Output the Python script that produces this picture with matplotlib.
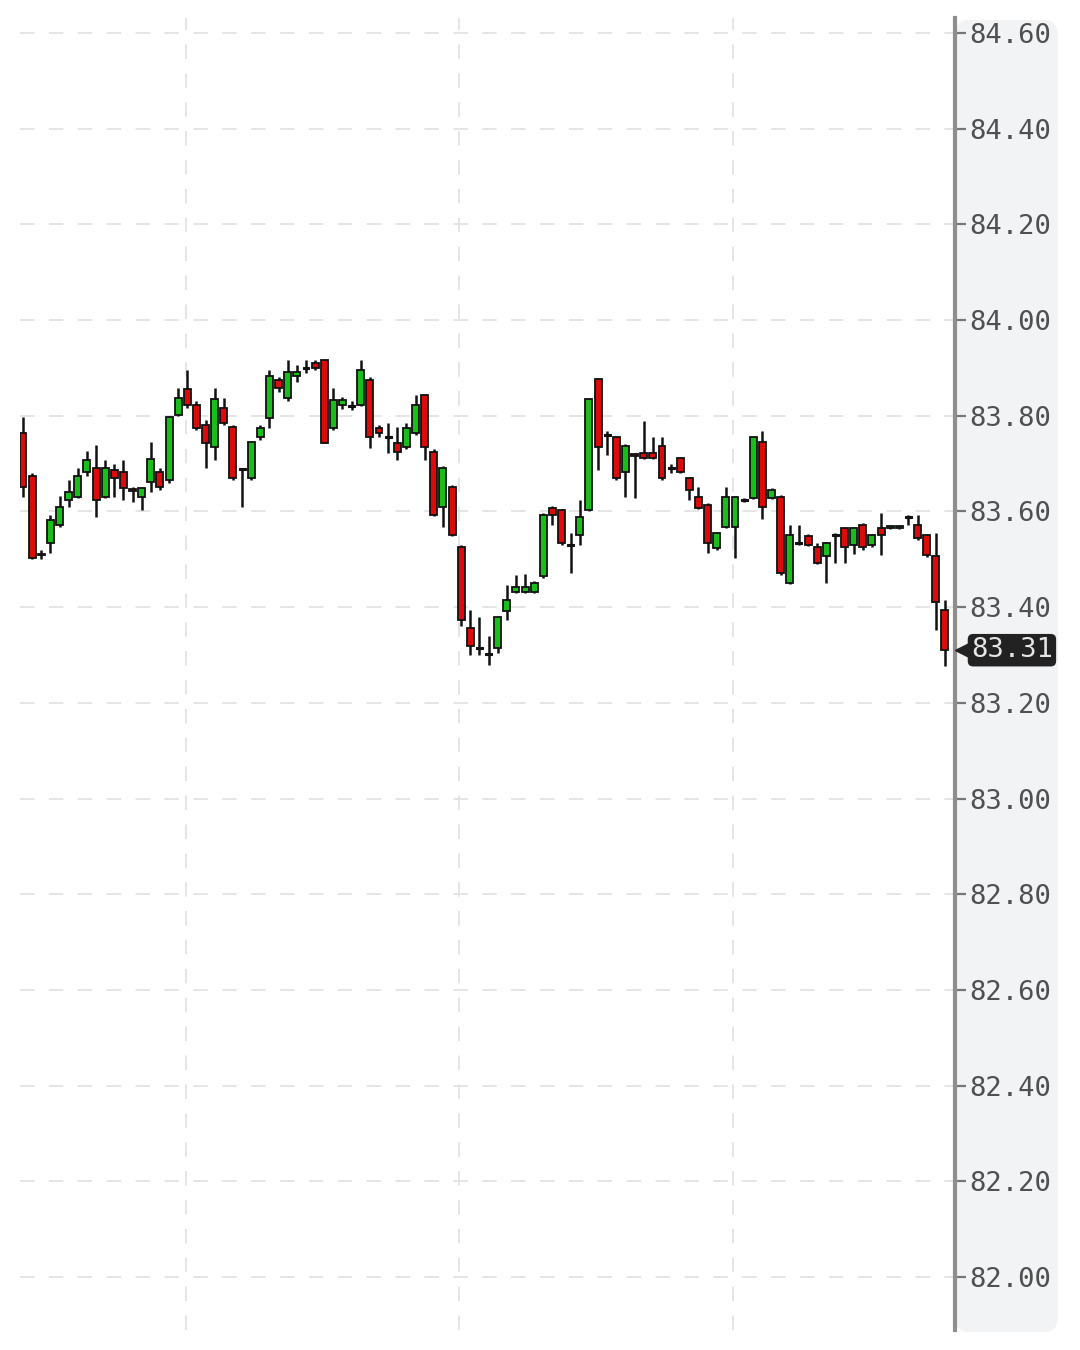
import matplotlib
matplotlib.use("Agg")
import matplotlib.pyplot as plt
import matplotlib.transforms as mtransforms
from matplotlib.patches import FancyBboxPatch
import numpy as np

# ---- data ----
opens = [83.763, 83.673, 83.512, 83.534, 83.572, 83.624, 83.631, 83.683, 83.690, 83.631,
         83.687, 83.683, 83.646, 83.631, 83.662, 83.683, 83.666, 83.802, 83.855, 83.823,
         83.781, 83.735, 83.816, 83.777, 83.689, 83.669, 83.756, 83.795, 83.875, 83.837,
         83.882, 83.900, 83.910, 83.917, 83.774, 83.823, 83.822, 83.823, 83.875, 83.774,
         83.757, 83.743, 83.735, 83.763, 83.843, 83.725, 83.610, 83.652, 83.526, 83.356,
         83.315, 83.303, 83.314, 83.391, 83.432, 83.432, 83.432, 83.464, 83.607, 83.603,
         83.531, 83.551, 83.603, 83.877, 83.761, 83.755, 83.683, 83.720, 83.722, 83.722,
         83.737, 83.691, 83.711, 83.669, 83.631, 83.614, 83.523, 83.568, 83.568, 83.625,
         83.628, 83.746, 83.628, 83.631, 83.450, 83.535, 83.548, 83.526, 83.506, 83.552,
         83.565, 83.530, 83.572, 83.530, 83.565, 83.566, 83.566, 83.590, 83.572, 83.551,
         83.506, 83.394]
highs = [83.798, 83.680, 83.520, 83.593, 83.632, 83.666, 83.690, 83.727, 83.739, 83.708,
         83.700, 83.708, 83.652, 83.652, 83.746, 83.690, 83.800, 83.858, 83.896, 83.830,
         83.790, 83.858, 83.837, 83.780, 83.690, 83.746, 83.780, 83.896, 83.880, 83.917,
         83.905, 83.917, 83.917, 83.917, 83.858, 83.840, 83.830, 83.917, 83.880, 83.780,
         83.785, 83.777, 83.785, 83.843, 83.845, 83.730, 83.695, 83.655, 83.530, 83.394,
         83.380, 83.339, 83.382, 83.446, 83.467, 83.470, 83.455, 83.596, 83.612, 83.606,
         83.554, 83.624, 83.836, 83.879, 83.767, 83.758, 83.740, 83.722, 83.788, 83.756,
         83.756, 83.700, 83.713, 83.672, 83.652, 83.617, 83.556, 83.652, 83.633, 83.627,
         83.758, 83.767, 83.648, 83.635, 83.572, 83.572, 83.552, 83.534, 83.536, 83.555,
         83.568, 83.568, 83.575, 83.553, 83.597, 83.572, 83.572, 83.592, 83.593, 83.553,
         83.554, 83.415]
lows = [83.631, 83.500, 83.500, 83.513, 83.568, 83.610, 83.628, 83.673, 83.589, 83.628,
        83.630, 83.624, 83.620, 83.603, 83.641, 83.645, 83.660, 83.800, 83.816, 83.770,
        83.690, 83.708, 83.780, 83.665, 83.610, 83.665, 83.750, 83.774, 83.850, 83.830,
        83.870, 83.890, 83.895, 83.743, 83.770, 83.815, 83.812, 83.820, 83.733, 83.755,
        83.722, 83.708, 83.730, 83.760, 83.708, 83.590, 83.568, 83.548, 83.360, 83.300,
        83.300, 83.279, 83.305, 83.373, 83.430, 83.430, 83.430, 83.460, 83.572, 83.530,
        83.471, 83.530, 83.600, 83.687, 83.718, 83.665, 83.631, 83.628, 83.710, 83.710,
        83.665, 83.680, 83.680, 83.624, 83.605, 83.513, 83.520, 83.565, 83.502, 83.620,
        83.625, 83.585, 83.625, 83.468, 83.448, 83.530, 83.528, 83.490, 83.450, 83.492,
        83.492, 83.510, 83.520, 83.525, 83.509, 83.564, 83.564, 83.572, 83.540, 83.505,
        83.352, 83.276]
closes = [83.652, 83.502, 83.508, 83.582, 83.610, 83.641, 83.673, 83.708, 83.624, 83.690,
          83.669, 83.648, 83.643, 83.648, 83.709, 83.652, 83.798, 83.837, 83.823, 83.774,
          83.743, 83.834, 83.784, 83.669, 83.687, 83.744, 83.774, 83.882, 83.858, 83.892,
          83.892, 83.898, 83.899, 83.743, 83.833, 83.833, 83.820, 83.896, 83.755, 83.763,
          83.755, 83.725, 83.774, 83.823, 83.735, 83.593, 83.690, 83.551, 83.373, 83.318,
          83.313, 83.301, 83.380, 83.415, 83.443, 83.443, 83.450, 83.593, 83.593, 83.534,
          83.529, 83.589, 83.834, 83.735, 83.759, 83.669, 83.737, 83.716, 83.712, 83.712,
          83.669, 83.689, 83.683, 83.645, 83.607, 83.534, 83.554, 83.631, 83.631, 83.623,
          83.756, 83.610, 83.645, 83.471, 83.551, 83.533, 83.530, 83.492, 83.534, 83.550,
          83.526, 83.565, 83.526, 83.551, 83.551, 83.570, 83.570, 83.588, 83.544, 83.509,
          83.411, 83.310]
y_ticks = [82.00, 82.20, 82.40, 82.60, 82.80, 83.00, 83.20, 83.40, 83.60, 83.80,
           84.00, 84.20, 84.40, 84.60]
time_grid = [17.9, 47.8, 77.8]
last_price = 83.31

# ---- figure ----
W, H = 1080, 1350
fig = plt.figure(figsize=(W / 100, H / 100), dpi=100)
fig.patch.set_facecolor("white")

# right price panel background (drawn beneath the axes)
panel = FancyBboxPatch((955 / W, 18 / H), 103 / W, 1312 / H,
                       boxstyle="round,pad=0,rounding_size=0.012",
                       transform=fig.transFigure, facecolor="#f2f3f5",
                       edgecolor="none", zorder=-10)
fig.patches.append(panel)

ax = fig.add_axes([20 / W, 20 / H, 935 / W, 1312 / H])
ax.set_zorder(1)
ax.set_facecolor("white")
ax.set_xlim(-0.33, 102.1)
ax.set_ylim(81.8895, 84.631)

# grid
for yv in y_ticks:
    ax.axhline(yv, color="#e3e3e3", lw=1.3, dashes=(8, 8), zorder=0)
for xv in time_grid:
    ax.axvline(xv, color="#e3e3e3", lw=1.3, dashes=(8, 8), zorder=0)

x = np.arange(len(opens))
o = np.array(opens); c = np.array(closes)
hi = np.array(highs); lo = np.array(lows)

ax.vlines(x, lo, hi, color="#111111", lw=1.8, zorder=2)

up = c > o + 0.0025
down = c < o - 0.0025
doji = ~(up | down)
bw = 0.76
ax.bar(x[up], (c - o)[up], bottom=o[up], width=bw, color="#18bf18",
       edgecolor="#111111", linewidth=1.3, zorder=3)
ax.bar(x[down], (o - c)[down], bottom=c[down], width=bw, color="#dd0a0a",
       edgecolor="#111111", linewidth=1.3, zorder=3)
ax.bar(x[doji], np.full(doji.sum(), 0.004), bottom=np.minimum(o, c)[doji] - 0.001,
       width=bw, color="#111111", edgecolor="#111111", linewidth=0.8, zorder=3)

# axes styling
for s in ["top", "left", "bottom"]:
    ax.spines[s].set_visible(False)
ax.spines["right"].set_color("#8e8e8e")
ax.spines["right"].set_linewidth(3)
ax.set_xticks([])
ax.yaxis.tick_right()
ax.set_yticks(y_ticks)
ax.set_yticklabels([f"{v:.2f}" for v in y_ticks])
ax.tick_params(axis="y", length=8, width=1.6, color="#777777", pad=2,
               labelsize=19.5, labelcolor="#505050")
for lab in ax.get_yticklabels():
    lab.set_family("DejaVu Sans Mono")

# last price tag
trans = mtransforms.blended_transform_factory(ax.transAxes, ax.transData)
ax.plot([1.0 + 10 / 935], [last_price], marker="<", ms=15, color="#222222",
        transform=trans, clip_on=False, zorder=5)
ax.text(1.0 + 16 / 935, last_price, f"{last_price:.2f}", transform=trans,
        ha="left", va="center", fontsize=19.5, family="DejaVu Sans Mono",
        color="#e6e6e6", zorder=6,
        bbox=dict(boxstyle="round,pad=0.12,rounding_size=0.2",
                  fc="#222222", ec="none"))

fig.savefig("out.png", dpi=100, facecolor="white")
